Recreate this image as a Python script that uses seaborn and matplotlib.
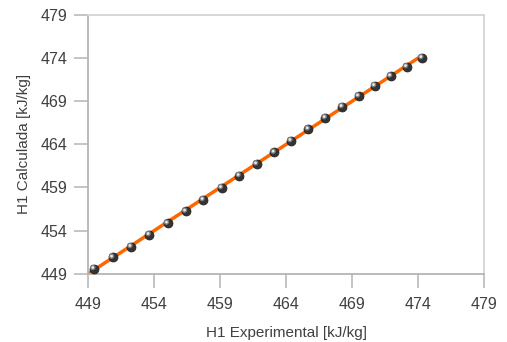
import matplotlib
matplotlib.use("Agg")
import matplotlib.pyplot as plt
from matplotlib.transforms import offset_copy
import seaborn as sns
import pandas as pd

h1_experimental = [449.43, 450.85, 452.24, 453.62, 455.01, 456.38, 457.71, 459.10, 460.44, 461.76,
                   463.09, 464.36, 465.67, 466.96, 468.24, 469.48, 470.70, 471.91, 473.12, 474.28]
h1_calculada = [449.58, 450.90, 452.13, 453.52, 454.84, 456.23, 457.57, 458.96, 460.35, 461.71,
                463.06, 464.41, 465.76, 467.07, 468.35, 469.58, 470.78, 471.90, 472.98, 474.02]
line_x = [449.0, 474.2]
line_y = [449.0, 474.2]
ticks = [449, 454, 459, 464, 469, 474, 479]

sns.set_theme(style="white")
plt.rcParams['font.family'] = ['Liberation Sans', 'DejaVu Sans']

df = pd.DataFrame({"x": h1_experimental, "y": h1_calculada})
dfl = pd.DataFrame({"x": line_x, "y": line_y})

fig = plt.figure(figsize=(5.07, 3.42), dpi=100)
ax = fig.add_axes([0.1742, 0.1997, 0.781, 0.757])

sns.lineplot(data=dfl, x="x", y="y", ax=ax, color="#ff6600", linewidth=2.5, zorder=2)
sns.scatterplot(data=df, x="x", y="y", ax=ax, color="#333333", s=42, edgecolor="#1e1e1e",
                linewidth=0.5, zorder=3)
n0 = len(ax.collections)
sns.scatterplot(data=df, x="x", y="y", ax=ax, color="#7a7a7a", s=16, edgecolor="none",
                linewidth=0, zorder=4)
sns.scatterplot(data=df, x="x", y="y", ax=ax, color="#e8e8e8", s=4, edgecolor="none",
                linewidth=0, zorder=5)
for coll in ax.collections[n0:]:
    coll.set_offset_transform(offset_copy(ax.transData, fig=fig, x=-1.2, y=1.2, units="dots"))

ax.set_xlim(449, 479)
ax.set_ylim(449, 479)
ax.set_xticks(ticks)
ax.set_yticks(ticks)
ax.set_xticklabels([str(t) for t in ticks])
ax.set_yticklabels([str(t) for t in ticks])

for side in ["left", "bottom"]:
    ax.spines[side].set_color("#b4b4b4")
    ax.spines[side].set_linewidth(1.3)
for side in ["top", "right"]:
    ax.spines[side].set_color("#d4d4d4")
    ax.spines[side].set_linewidth(1.3)

ax.tick_params(axis="both", direction="out", length=10, width=1.1, color="#b4b4b4",
               labelsize=11.5, labelcolor="#404040", left=True, bottom=True)
ax.tick_params(axis="x", pad=7)
ax.tick_params(axis="y", pad=5)

ax.set_xlabel("H1 Experimental [kJ/kg]", fontsize=11, color="#404040", labelpad=10)
ax.set_ylabel("H1 Calculada [kJ/kg]", fontsize=11, color="#404040", labelpad=7)

fig.savefig("out.png", dpi=100)
